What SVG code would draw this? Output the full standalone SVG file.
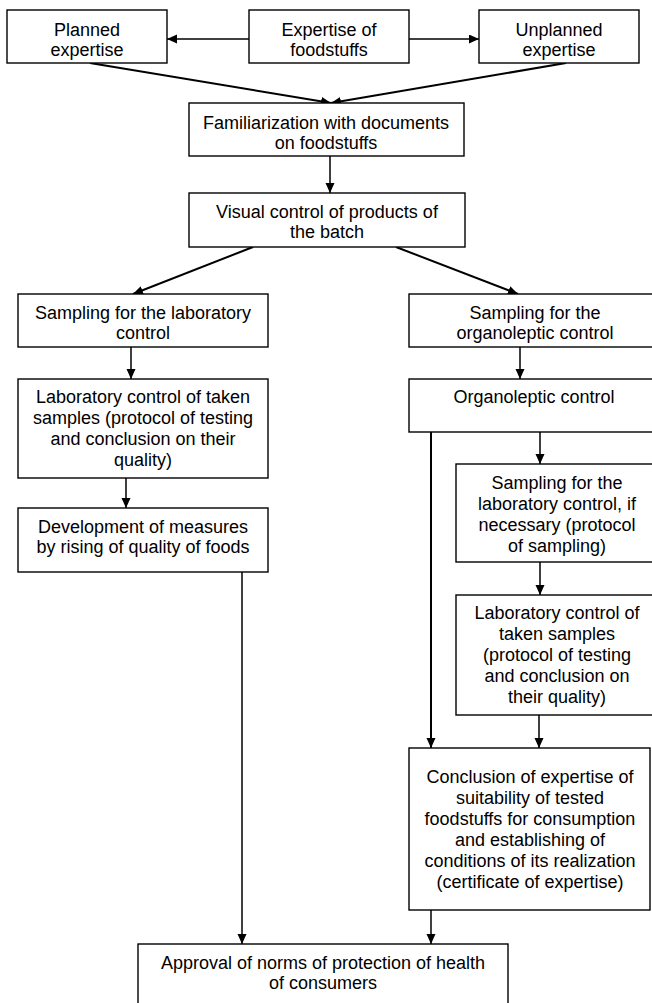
<svg xmlns="http://www.w3.org/2000/svg" width="652" height="1003" viewBox="0 0 652 1003">
  <defs>
    <marker id="arrow" markerUnits="userSpaceOnUse" markerWidth="11" markerHeight="10" refX="10" refY="4.5" orient="auto">
      <path d="M0,0 L10,4.5 L0,9 z" fill="#000"/>
    </marker>
    <style>
      .box { fill: #fff; stroke: #000; stroke-width: 1.4; }
      .lbl { font-family: "Liberation Sans", Arial, sans-serif; font-size: 18px; fill: #000; text-anchor: middle; }
      .link { fill: none; stroke: #000; stroke-width: 1.5; marker-end: url(#arrow); }
      .link.heavy { stroke-width: 2; }
    </style>
  </defs>
  <rect x="0" y="0" width="652" height="1003" fill="#fff"/>

  <!-- connectors -->
  <g id="connectors">
    <line class="link" x1="249" y1="39" x2="167" y2="39"/>
    <line class="link" x1="409" y1="39" x2="479" y2="39"/>
    <line class="link heavy" x1="90" y1="63" x2="331" y2="103"/>
    <line class="link heavy" x1="566" y1="63" x2="331" y2="103"/>
    <line class="link" x1="330" y1="156" x2="330" y2="193"/>
    <line class="link heavy" x1="253" y1="247" x2="133" y2="294"/>
    <line class="link heavy" x1="396" y1="247" x2="518" y2="294"/>
    <line class="link" x1="131" y1="347" x2="131" y2="379"/>
    <line class="link" x1="126" y1="478" x2="126" y2="508"/>
    <line class="link" x1="242" y1="572" x2="242" y2="944"/>
    <line class="link" x1="520" y1="347" x2="520" y2="379"/>
    <line class="link" x1="540" y1="432" x2="540" y2="464"/>
    <line class="link" x1="540" y1="562" x2="540" y2="595"/>
    <line class="link" x1="539" y1="715" x2="539" y2="748"/>
    <line class="link heavy" x1="431" y1="432" x2="431" y2="748"/>
    <line class="link" x1="431" y1="910" x2="431" y2="944"/>
  </g>

  <!-- top row -->
  <g id="planned">
    <rect class="box" x="7" y="10" width="160" height="53"/>
    <text class="lbl" x="87" y="36">Planned</text>
    <text class="lbl" x="87" y="56">expertise</text>
  </g>
  <g id="expertise">
    <rect class="box" x="249" y="10" width="160" height="53"/>
    <text class="lbl" x="329" y="36">Expertise of</text>
    <text class="lbl" x="329" y="56">foodstuffs</text>
  </g>
  <g id="unplanned">
    <rect class="box" x="479" y="10" width="160" height="53"/>
    <text class="lbl" x="559" y="36">Unplanned</text>
    <text class="lbl" x="559" y="56">expertise</text>
  </g>

  <g id="familiarization">
    <rect class="box" x="189" y="103" width="275" height="53"/>
    <text class="lbl" x="326" y="129">Familiarization with documents</text>
    <text class="lbl" x="326" y="149">on foodstuffs</text>
  </g>
  <g id="visual">
    <rect class="box" x="189" y="193" width="276" height="54"/>
    <text class="lbl" x="327" y="218">Visual control of products of</text>
    <text class="lbl" x="327" y="238">the batch</text>
  </g>

  <!-- left branch -->
  <g id="sampling-lab">
    <rect class="box" x="18" y="294" width="250" height="53"/>
    <text class="lbl" x="143" y="319">Sampling for the laboratory</text>
    <text class="lbl" x="143" y="339">control</text>
  </g>
  <g id="lab-control">
    <rect class="box" x="18" y="379" width="250" height="99"/>
    <text class="lbl" x="143" y="403">Laboratory control of taken</text>
    <text class="lbl" x="143" y="424">samples (protocol of testing</text>
    <text class="lbl" x="143" y="445">and conclusion on their</text>
    <text class="lbl" x="143" y="466">quality)</text>
  </g>
  <g id="development">
    <rect class="box" x="18" y="508" width="250" height="64"/>
    <text class="lbl" x="143" y="533">Development of measures</text>
    <text class="lbl" x="143" y="553">by rising of quality of foods</text>
  </g>

  <!-- right branch -->
  <g id="sampling-organoleptic">
    <rect class="box" x="409" y="294" width="252" height="53"/>
    <text class="lbl" x="535" y="319">Sampling for the</text>
    <text class="lbl" x="535" y="339">organoleptic control</text>
  </g>
  <g id="organoleptic">
    <rect class="box" x="409" y="379" width="252" height="53"/>
    <text class="lbl" x="534" y="403">Organoleptic control</text>
  </g>
  <g id="sampling-if-necessary">
    <rect class="box" x="456" y="464" width="204" height="98"/>
    <text class="lbl" x="557" y="489">Sampling for the</text>
    <text class="lbl" x="557" y="510">laboratory control, if</text>
    <text class="lbl" x="557" y="531">necessary (protocol</text>
    <text class="lbl" x="557" y="552">of sampling)</text>
  </g>
  <g id="lab-control-right">
    <rect class="box" x="456" y="595" width="204" height="120"/>
    <text class="lbl" x="557" y="619">Laboratory control of</text>
    <text class="lbl" x="557" y="640">taken samples</text>
    <text class="lbl" x="557" y="661">(protocol of testing</text>
    <text class="lbl" x="557" y="682">and conclusion on</text>
    <text class="lbl" x="557" y="703">their quality)</text>
  </g>
  <g id="conclusion">
    <rect class="box" x="409" y="748" width="241" height="162"/>
    <text class="lbl" x="530" y="783">Conclusion of expertise of</text>
    <text class="lbl" x="530" y="804">suitability of tested</text>
    <text class="lbl" x="530" y="825">foodstuffs for consumption</text>
    <text class="lbl" x="530" y="846">and establishing of</text>
    <text class="lbl" x="530" y="867">conditions of its realization</text>
    <text class="lbl" x="530" y="888">(certificate of expertise)</text>
  </g>

  <!-- final step -->
  <g id="approval">
    <rect class="box" x="138" y="944" width="370" height="70"/>
    <text class="lbl" x="323" y="969">Approval of norms of protection of health</text>
    <text class="lbl" x="323" y="989">of consumers</text>
  </g>
</svg>
